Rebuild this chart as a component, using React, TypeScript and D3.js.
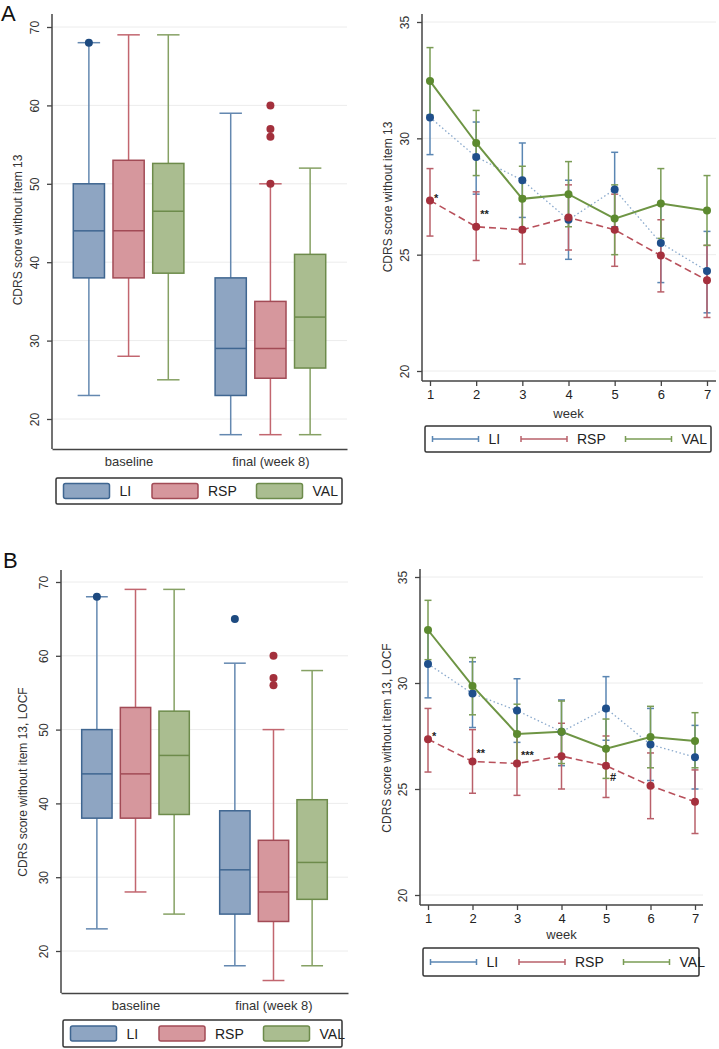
import React, {useEffect, useRef} from 'react';
import * as d3 from 'd3';

// categories
const groups = ["LI", "RSP", "VAL"];
const timepoints = ["baseline", "final (week 8)"];
const weeks = [1, 2, 3, 4, 5, 6, 7];
const boxTicks = [20, 30, 40, 50, 60, 70];
const lineTicks = [20, 25, 30, 35];

// box stats per group: [low whisker, q1, median, q3, high whisker] for baseline, final
const aLI = [[23, 38, 44, 50, 68], [18, 23, 29, 38, 59]];
const aRSP = [[28, 38, 44, 53, 69], [18, 25.2, 29, 35, 50]];
const aVAL = [[25, 38.6, 46.5, 52.6, 69], [18, 26.5, 33, 41, 52]];
const aLIout = [[68], []];
const aRSPout = [[], [60, 57, 56, 50]];
const aVALout = [[], []];

const bLI = [[23, 38, 44, 50, 68], [18, 25, 31, 39, 59]];
const bRSP = [[28, 38, 44, 53, 69], [16, 24, 28, 35, 50]];
const bVAL = [[25, 38.5, 46.5, 52.5, 69], [18, 27, 32, 40.5, 58]];
const bLIout = [[68], [65]];
const bRSPout = [[], [60, 57, 56]];
const bVALout = [[], []];

// weekly means and 95% CI, observed cases
const aLImean = [30.9, 29.2, 28.2, 26.5, 27.8, 25.5, 24.3];
const aLIlo = [29.3, 27.6, 26.6, 24.8, 26.2, 23.8, 22.5];
const aLIhi = [32.5, 30.7, 29.8, 28.2, 29.4, 27.2, 26.0];
const aRSPmean = [27.33, 26.2, 26.07, 26.6, 26.07, 24.96, 23.9];
const aRSPlo = [25.8, 24.75, 24.6, 25.2, 24.5, 23.4, 22.3];
const aRSPhi = [28.7, 27.7, 27.5, 28.0, 27.6, 26.5, 25.4];
const aVALmean = [32.46, 29.8, 27.4, 27.6, 26.55, 27.2, 26.9];
const aVALlo = [31.0, 28.4, 26.0, 26.2, 25.0, 25.7, 25.4];
const aVALhi = [33.9, 31.2, 28.8, 29.0, 28.0, 28.7, 28.4];
const aMarks = [{week: 1, value: 27.45, label: "*"}, {week: 2, value: 26.75, label: "**"}];

// weekly means and 95% CI, LOCF
const bLImean = [30.9, 29.5, 28.7, 27.7, 28.8, 27.1, 26.5];
const bLIlo = [29.3, 27.9, 27.2, 26.1, 27.3, 25.4, 25.0];
const bLIhi = [32.5, 31.0, 30.2, 29.2, 30.3, 28.8, 28.0];
const bRSPmean = [27.35, 26.3, 26.2, 26.55, 26.1, 25.15, 24.4];
const bRSPlo = [25.8, 24.8, 24.7, 25.0, 24.6, 23.6, 22.9];
const bRSPhi = [28.8, 27.8, 27.7, 28.1, 27.5, 26.7, 25.9];
const bVALmean = [32.5, 29.86, 27.6, 27.7, 26.9, 27.45, 27.26];
const bVALlo = [31.1, 28.5, 26.2, 26.2, 25.5, 26.0, 26.0];
const bVALhi = [33.9, 31.2, 29.0, 29.15, 28.3, 28.9, 28.6];
const bMarks = [
  {week: 1, value: 27.5, label: "*"},
  {week: 2, value: 26.7, label: "**"},
  {week: 3, value: 26.6, label: "***"},
  {week: 5, value: 25.55, label: "#"},
];

const font = "'Liberation Sans', Arial, sans-serif";
const boxColors: any = {
  LI: {fill: "#8ea5c2", stroke: "#3f6691", whisker: "#6488b0", dot: "#1d4a80"},
  RSP: {fill: "#d6979d", stroke: "#a24b56", whisker: "#c2666f", dot: "#a3303c"},
  VAL: {fill: "#aabd90", stroke: "#6d8b4b", whisker: "#86a164", dot: "#5c8a2f"},
};
const lineColors: any = {
  LI: {dot: "#1f4f8b", line: "#8aa9cc", bar: "#5a86b3", dash: "1.5,2.5", width: 1.3},
  RSP: {dot: "#a5303d", line: "#b8505b", bar: "#b9606a", dash: "7,4", width: 1.6},
  VAL: {dot: "#5c8a2f", line: "#6e9544", bar: "#7a9c55", dash: null, width: 2},
};

const App = () => {
  const ref = useRef<SVGSVGElement>(null);

  useEffect(() => {
    drawChart();
    return () => {
      d3.select(ref.current).selectAll("*").remove();
    };
  }, []);

  const drawLegend = (svg: any, box: any, kind: string) => {
    const g = svg.append("g");
    g.append("rect")
      .attr("x", box.x0).attr("y", box.y0)
      .attr("width", box.x1 - box.x0).attr("height", box.y1 - box.y0)
      .attr("rx", 1.5)
      .attr("fill", "white").attr("stroke", "#333").attr("stroke-width", 1.5);
    const offsets = [7.5, 96, 200.5];
    const midY = (box.y0 + box.y1) / 2;
    groups.forEach((name, i) => {
      const sx = box.x0 + offsets[i];
      if (kind === "box") {
        g.append("rect")
          .attr("x", sx).attr("y", midY - 7.5)
          .attr("width", 46).attr("height", 15).attr("rx", 2)
          .attr("fill", boxColors[name].fill)
          .attr("stroke", boxColors[name].stroke).attr("stroke-width", 1.5);
      } else {
        const c = lineColors[name].bar;
        g.append("line").attr("x1", sx).attr("x2", sx + 46).attr("y1", midY).attr("y2", midY)
          .attr("stroke", c).attr("stroke-width", 1.5);
        [sx, sx + 46].forEach((cx) => {
          g.append("line").attr("x1", cx).attr("x2", cx).attr("y1", midY - 3).attr("y2", midY + 3)
            .attr("stroke", c).attr("stroke-width", 1.5);
        });
      }
      g.append("text")
        .attr("x", sx + 56).attr("y", midY + 5)
        .attr("font-family", font).attr("font-size", "14px").attr("fill", "#222")
        .text(name);
    });
  };

  const drawBoxPanel = (svg: any, cfg: any, stats: number[][][], outliers: number[][][], title: string) => {
    const y = d3.scaleLinear().domain([20, 70]).range([cfg.y20, cfg.y70]);
    const x = d3.scalePoint<string>().domain(timepoints).range([cfg.left, cfg.right]).padding(0.54);
    const step = x.step();
    const gx = d3.scalePoint<string>().domain(groups).range([-step * 0.28, step * 0.28]);
    const bw = step * 0.22;

    const g = svg.append("g");
    // gridlines
    g.selectAll(".grid").data(boxTicks).enter().append("line")
      .attr("x1", cfg.left).attr("x2", cfg.right)
      .attr("y1", (d: number) => y(d)).attr("y2", (d: number) => y(d))
      .attr("stroke", "#ececec").attr("stroke-width", 1);

    // y axis
    const ya = g.append("g").attr("transform", `translate(${cfg.left},0)`)
      .call(d3.axisLeft(y).tickValues(boxTicks).tickSize(5).tickFormat(d3.format("d")));
    ya.select(".domain").remove();
    ya.selectAll(".tick line").attr("stroke", "#444").attr("stroke-width", 1.3);
    ya.selectAll(".tick text")
      .attr("transform", "rotate(-90)").attr("x", 0).attr("y", -13).attr("dy", 0)
      .attr("text-anchor", "middle")
      .attr("font-family", font).attr("font-size", "12px").attr("fill", "#333");
    g.append("line").attr("x1", cfg.left).attr("x2", cfg.left).attr("y1", cfg.top).attr("y2", cfg.bottom)
      .attr("stroke", "#444").attr("stroke-width", 1.5);

    // x axis
    const xa = g.append("g").attr("transform", `translate(0,${cfg.bottom})`)
      .call(d3.axisBottom(x).tickSize(0).tickSizeOuter(0).tickPadding(8));
    xa.select(".domain").attr("stroke", "#444").attr("stroke-width", 1.5);
    xa.selectAll(".tick text").attr("font-family", font).attr("font-size", "13px").attr("fill", "#333");

    // y title
    g.append("text")
      .attr("transform", `translate(${cfg.titleX},${cfg.titleY}) rotate(-90)`)
      .attr("text-anchor", "middle")
      .attr("font-family", font).attr("font-size", "12px").attr("fill", "#333")
      .text(title);

    // boxes
    groups.forEach((name, gi) => {
      const col = boxColors[name];
      timepoints.forEach((tp, ti) => {
        const [lo, q1, med, q3, hi] = stats[gi][ti];
        const cx = (x(tp) as number) + (gx(name) as number);
        const cw = bw * 0.72;
        g.append("line").attr("x1", cx).attr("x2", cx).attr("y1", y(hi)).attr("y2", y(q3))
          .attr("stroke", col.whisker).attr("stroke-width", 1.5);
        g.append("line").attr("x1", cx).attr("x2", cx).attr("y1", y(q1)).attr("y2", y(lo))
          .attr("stroke", col.whisker).attr("stroke-width", 1.5);
        [hi, lo].forEach((v) => {
          g.append("line").attr("x1", cx - cw / 2).attr("x2", cx + cw / 2).attr("y1", y(v)).attr("y2", y(v))
            .attr("stroke", col.whisker).attr("stroke-width", 1.5);
        });
        g.append("rect")
          .attr("x", cx - bw / 2).attr("y", y(q3))
          .attr("width", bw).attr("height", y(q1) - y(q3))
          .attr("fill", col.fill).attr("stroke", col.stroke).attr("stroke-width", 1.5);
        g.append("line").attr("x1", cx - bw / 2).attr("x2", cx + bw / 2).attr("y1", y(med)).attr("y2", y(med))
          .attr("stroke", col.stroke).attr("stroke-width", 1.5);
        outliers[gi][ti].forEach((v) => {
          g.append("circle").attr("cx", cx).attr("cy", y(v)).attr("r", 4).attr("fill", col.dot);
        });
      });
    });

    drawLegend(svg, cfg.legend, "box");
  };

  const drawLinePanel = (svg: any, cfg: any, series: number[][][], marks: any[], title: string) => {
    const x = d3.scaleLinear().domain([1, 7]).range([cfg.x1, cfg.x7]);
    const y = d3.scaleLinear().domain([20, 35]).range([cfg.y20, cfg.y35]);
    const g = svg.append("g");

    g.selectAll(".grid").data(lineTicks).enter().append("line")
      .attr("x1", cfg.left).attr("x2", cfg.right)
      .attr("y1", (d: number) => y(d)).attr("y2", (d: number) => y(d))
      .attr("stroke", "#ececec").attr("stroke-width", 1);

    const ya = g.append("g").attr("transform", `translate(${cfg.left},0)`)
      .call(d3.axisLeft(y).tickValues(lineTicks).tickSize(5).tickFormat(d3.format("d")));
    ya.select(".domain").remove();
    ya.selectAll(".tick line").attr("stroke", "#444").attr("stroke-width", 1.3);
    ya.selectAll(".tick text")
      .attr("transform", "rotate(-90)").attr("x", 0).attr("y", -13).attr("dy", 0)
      .attr("text-anchor", "middle")
      .attr("font-family", font).attr("font-size", "12px").attr("fill", "#333");
    g.append("line").attr("x1", cfg.left).attr("x2", cfg.left).attr("y1", cfg.top).attr("y2", cfg.bottom)
      .attr("stroke", "#444").attr("stroke-width", 1.5);

    const xa = g.append("g").attr("transform", `translate(0,${cfg.bottom})`)
      .call(d3.axisBottom(x).tickValues(weeks).tickSize(5).tickPadding(4).tickFormat(d3.format("d")));
    xa.select(".domain").remove();
    xa.selectAll(".tick line").attr("stroke", "#444").attr("stroke-width", 1.3);
    xa.selectAll(".tick text").attr("font-family", font).attr("font-size", "13px").attr("fill", "#222");
    g.append("line").attr("x1", cfg.left).attr("x2", cfg.right).attr("y1", cfg.bottom).attr("y2", cfg.bottom)
      .attr("stroke", "#444").attr("stroke-width", 1.5);

    g.append("text")
      .attr("x", x(4)).attr("y", cfg.weekY)
      .attr("text-anchor", "middle")
      .attr("font-family", font).attr("font-size", "13px").attr("fill", "#333")
      .text("week");

    g.append("text")
      .attr("transform", `translate(${cfg.titleX},${cfg.titleY}) rotate(-90)`)
      .attr("text-anchor", "middle")
      .attr("font-family", font).attr("font-size", "12px").attr("fill", "#333")
      .text(title);

    // error bars
    groups.forEach((name, gi) => {
      const [, lo, hi] = series[gi];
      const c = lineColors[name].bar;
      weeks.forEach((w, i) => {
        g.append("line").attr("x1", x(w)).attr("x2", x(w)).attr("y1", y(lo[i])).attr("y2", y(hi[i]))
          .attr("stroke", c).attr("stroke-width", 1.5);
        [lo[i], hi[i]].forEach((v) => {
          g.append("line").attr("x1", x(w) - 3.5).attr("x2", x(w) + 3.5).attr("y1", y(v)).attr("y2", y(v))
            .attr("stroke", c).attr("stroke-width", 1.5);
        });
      });
    });

    // connecting lines
    const line = d3.line<number>().x((_, i) => x(weeks[i])).y((d) => y(d));
    groups.forEach((name, gi) => {
      const c = lineColors[name];
      const p = g.append("path").attr("d", line(series[gi][0]))
        .attr("fill", "none").attr("stroke", c.line).attr("stroke-width", c.width);
      if (c.dash) p.attr("stroke-dasharray", c.dash);
    });

    // markers
    groups.forEach((name, gi) => {
      g.selectAll(null).data(series[gi][0]).enter().append("circle")
        .attr("cx", (_: number, i: number) => x(weeks[i])).attr("cy", (d: number) => y(d))
        .attr("r", 4).attr("fill", lineColors[name].dot);
    });

    marks.forEach((m) => {
      g.append("text")
        .attr("x", x(m.week) + 4).attr("y", y(m.value) + 4)
        .attr("font-family", font).attr("font-size", "11px").attr("font-weight", "bold").attr("fill", "#222")
        .text(m.label);
    });

    drawLegend(svg, cfg.legend, "line");
  };

  const drawChart = () => {
    const svg = d3.select(ref.current);
    svg.selectAll("*").remove();

    svg.append("text").attr("x", 1).attr("y", 21)
      .attr("font-family", font).attr("font-size", "22px").attr("fill", "#111").text("A");
    svg.append("text").attr("x", 3).attr("y", 568)
      .attr("font-family", font).attr("font-size", "22px").attr("fill", "#111").text("B");

    drawBoxPanel(svg, {
      left: 52, right: 347, top: 14, bottom: 449, y20: 419, y70: 27,
      titleX: 22, titleY: 230,
      legend: {x0: 56, x1: 342, y0: 478, y1: 504},
    }, [aLI, aRSP, aVAL], [aLIout, aRSPout, aVALout], "CDRS score without item 13");

    drawLinePanel(svg, {
      left: 422, right: 716, top: 14, bottom: 381, x1: 430, x7: 707, y20: 371, y35: 22,
      weekY: 418, titleX: 392, titleY: 197,
      legend: {x0: 425, x1: 711, y0: 426, y1: 452},
    }, [[aLImean, aLIlo, aLIhi], [aRSPmean, aRSPlo, aRSPhi], [aVALmean, aVALlo, aVALhi]],
    aMarks, "CDRS score without item 13");

    drawBoxPanel(svg, {
      left: 61, right: 348, top: 570, bottom: 993, y20: 951, y70: 582,
      titleX: 27, titleY: 782,
      legend: {x0: 63, x1: 342, y0: 1020, y1: 1047},
    }, [bLI, bRSP, bVAL], [bLIout, bRSPout, bVALout], "CDRS score without item 13, LOCF");

    drawLinePanel(svg, {
      left: 420, right: 703, top: 569, bottom: 905, x1: 428, x7: 695, y20: 895, y35: 577,
      weekY: 939, titleX: 391, titleY: 738,
      legend: {x0: 423, x1: 699, y0: 948, y1: 976},
    }, [[bLImean, bLIlo, bLIhi], [bRSPmean, bRSPlo, bRSPhi], [bVALmean, bVALlo, bVALhi]],
    bMarks, "CDRS score without item 13, LOCF");
  };

  return (
    <svg ref={ref} width={719} height={1049}
      style={{position: "absolute", left: 0, top: 0, background: "white"}} />
  );
};

export default App;
